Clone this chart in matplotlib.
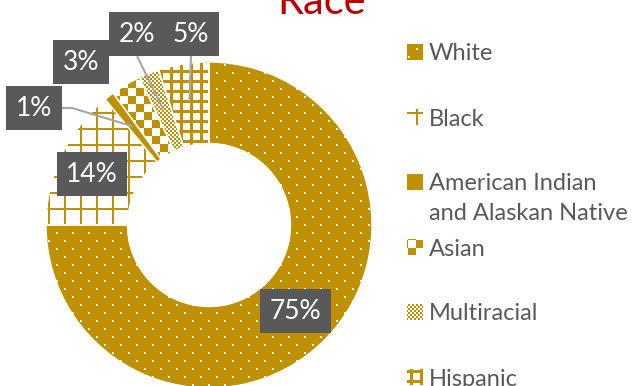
import numpy as np
import matplotlib.pyplot as plt
from matplotlib.patches import Rectangle

plt.rcParams['font.family'] = ['Lato', 'DejaVu Sans']

races = ['White', 'Black', 'American Indian\nand Alaskan Native', 'Asian', 'Multiracial', 'Hispanic']
shares = [75, 14, 1, 3, 2, 5]
fills = ['dots', 'grid', 'solid', 'checker', 'finechecker', 'finegrid']

gold = np.array([191, 144, 0]) / 255
white = np.ones(3)
box_grey = '#595959'
leader_grey = '#A6A6A6'

W, H = 637, 386
cx, cy, R = 209, H - 225, 163

fig = plt.figure(figsize=(W / 100, H / 100), dpi=100)
ax = fig.add_axes([0, 0, 1, 1])

yy, xx = np.mgrid[0:H, 0:W]


def texture(kind):
    if kind == 'dots':
        row = yy // 8
        on = ~(((yy % 8) < 2) & (((xx + (row % 2) * 8) % 16) < 2))
    elif kind == 'grid':
        on = ((xx % 16) < 2) | ((yy % 16) < 2)
    elif kind == 'finegrid':
        on = ((xx % 10) < 3) | ((yy % 10) < 3)
    elif kind == 'checker':
        on = ((xx // 8 + yy // 8) % 2) == 0
    elif kind == 'finechecker':
        on = ((xx // 2 + yy // 2) % 2) == 0
    else:
        on = np.ones((H, W), bool)
    return np.where(on[..., None], gold, white)


def paint(kind, patch):
    im = ax.imshow(texture(kind), extent=(0, W, 0, H), origin='upper',
                   interpolation='nearest', zorder=1)
    im.set_clip_path(patch)


wedges, _ = ax.pie(shares, radius=R, center=(cx, cy), startangle=90,
                   counterclock=False, colors=['none'] * len(shares),
                   wedgeprops=dict(width=R * 0.5, edgecolor='white', linewidth=1))
for w, kind in zip(wedges, fills):
    w.set_zorder(2)
    paint(kind, w)

# data labels: big slices sit inside the ring, small ones are called out
callouts = {1: (92, 174), 2: (34, 108), 3: (81, 62), 4: (137, 34), 5: (191, 34)}
leaders = {2: [(60, 108), (72, 108)], 4: [(137, 56)], 5: [(191, 56)]}
for i, (w, v) in enumerate(zip(wedges, shares)):
    mid = np.deg2rad((w.theta1 + w.theta2) / 2)
    if i in callouts:
        lx, ly = callouts[i][0], H - callouts[i][1]
    else:
        lx, ly = cx + 0.75 * R * np.cos(mid), cy + 0.75 * R * np.sin(mid)
    if i in leaders:
        pts = [(px, H - py) for px, py in leaders[i]]
        pts.append((cx + 0.767 * R * np.cos(mid), cy + 0.767 * R * np.sin(mid)))
        ax.plot([p[0] for p in pts], [p[1] for p in pts], color=leader_grey,
                lw=1.5, zorder=3, solid_capstyle='butt')
    ax.text(lx, ly, f'{v}%', ha='center', va='center', fontsize=19, color='white',
            zorder=4, bbox=dict(boxstyle='square,pad=0.36', fc=box_grey, ec='none'))

ax.text(322, H - 14, 'Race', ha='center', va='baseline', fontsize=30, color='#C00000')

# legend
for i, (name, kind) in enumerate(zip(races, fills)):
    ry = H - (52 + 65 * i)
    sq = Rectangle((407, ry - 8), 16, 16, facecolor='none', edgecolor='none')
    ax.add_patch(sq)
    paint(kind, sq)
    for j, line in enumerate(name.split('\n')):
        ax.text(429, ry - 2 - 30 * j, line, ha='left', va='center', fontsize=17,
                color=box_grey)

ax.set_xlim(0, W)
ax.set_ylim(0, H)
ax.set_aspect('auto')
ax.axis('off')

fig.savefig('out.png', dpi=100)
